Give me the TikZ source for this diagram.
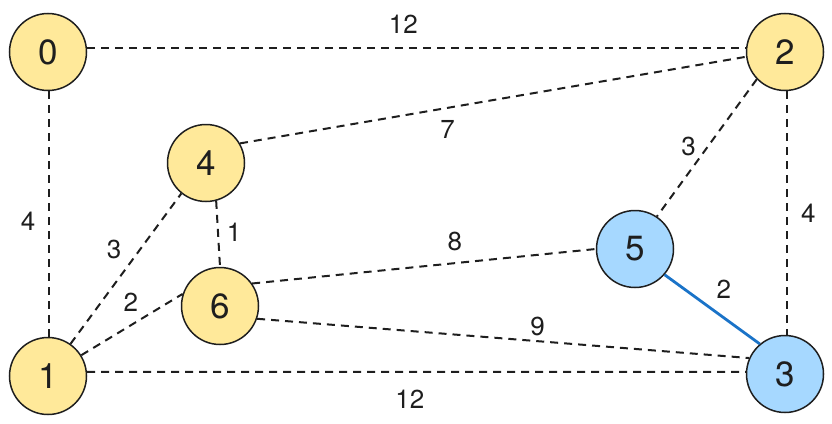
\documentclass[tikz,border=0pt]{standalone}
\usepackage{fontspec}
\setmainfont{TeX Gyre Heros}
\usetikzlibrary{positioning}
\definecolor{vertexyellow}{HTML}{FFE99A}
\definecolor{vertexblue}{HTML}{A6D8FF}
\definecolor{pathblue}{HTML}{1A73C8}
\definecolor{inkgray}{HTML}{1E1E1E}

\begin{document}
\begin{tikzpicture}[
    x=1pt, y=-1pt,
    vertex/.style={circle, draw=inkgray, line width=1.5pt, minimum size=77pt, inner sep=0pt, text=inkgray, font=\fontsize{35}{35}\selectfont},
    unvisited/.style={vertex, fill=vertexyellow},
    visited/.style={vertex, fill=vertexblue},
    link/.style={dash pattern=on 8pt off 6pt, line width=2pt, inkgray},
    chosen/.style={line width=2.8pt, pathblue},
    weight/.style={font=\fontsize{26}{26}\selectfont, inner sep=0pt, text=inkgray}
]
\useasboundingbox (0,0) rectangle (832,423);

% Nodes
\node[unvisited] (v0) at (48,52) {0};
\node[unvisited] (v2) at (785,52) {2};
\node[unvisited] (v4) at (206,163) {4};
\node[unvisited] (v6) at (220,306) {6};
\node[visited] (v5) at (635,249) {5};
\node[unvisited] (v1) at (48,376) {1};
\node[visited] (v3) at (785,374) {3};

% Edges
\draw[link] (v0.6) -- (v2.174) node[weight, pos=0.48, above=13pt] {12};
\draw[link] (v0.272) -- (v1.88) node[weight, pos=0.53, left=13pt] {4};
\draw[link] (v4.30) -- (v2.187) node[weight, pos=0.41, below=12pt] {7};
\draw[link] (v2.224) -- (v5.56) node[weight, pos=0.49, left=11pt] {3};
\draw[link] (v2.273) -- (v3.87) node[weight, pos=0.5, right=13pt] {4};
\draw[link] (v1.55) -- (v4.231) node[weight, pos=0.63, left=18pt] {3};
\draw[link] (v4.285) -- (v6.90) node[weight, pos=0.47, right=8pt] {1};
\draw[link] (v6.35) -- (v5.180) node[weight, pos=0.59, above=11pt] {8};
\draw[link] (v1.32) -- (v6.162) node[weight, pos=0.49, above=13pt] {2};
\draw[link] (v6.341) -- (v3.156) node[weight, pos=0.57, above=4pt] {9};
\draw[link] (v1.6) -- (v3.177) node[weight, pos=0.49, below=17pt] {12};

% Shortest path edge
\draw[chosen] (v5.319) -- (v3.130) node[weight, pos=0.5, above right=9pt and 3pt] {2};

\end{tikzpicture}
\end{document}
